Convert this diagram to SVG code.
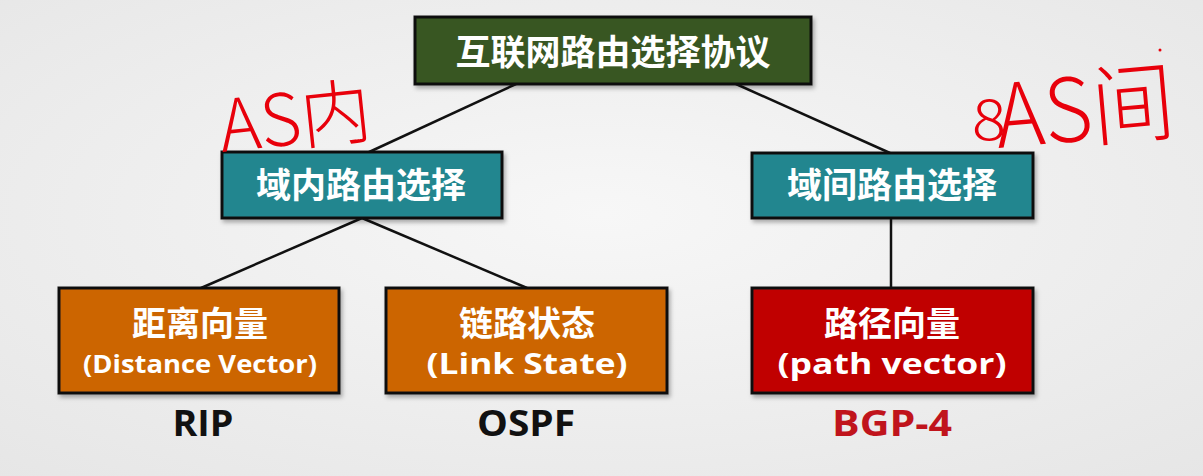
<svg xmlns="http://www.w3.org/2000/svg" width="1203" height="476" viewBox="0 0 1203 476">
<defs>
<radialGradient id="bg" cx="0.5" cy="0.45" r="0.75">
<stop offset="0" stop-color="#f7f7f7"/>
<stop offset="1" stop-color="#e6e6e6"/>
</radialGradient>
<filter id="sh" x="-5%" y="-10%" width="110%" height="125%">
<feDropShadow dx="2" dy="3" stdDeviation="2" flood-color="#000" flood-opacity="0.3"/>
</filter>
<style>
.box{stroke:#111;stroke-width:3;filter:url(#sh)}
.cn{font-family:"Noto Sans CJK SC","Noto Sans",sans-serif;font-weight:700;fill:#fff;text-anchor:middle}
.en{font-family:"Open Sans","Noto Sans",sans-serif;font-weight:700;fill:#fff;text-anchor:middle}
.lbl{font-family:"Open Sans","Noto Sans",sans-serif;font-weight:700;font-size:36px;text-anchor:middle}
.hw{font-family:"Noto Sans CJK SC","DejaVu Sans",sans-serif;font-weight:200;fill:#e8000b}
.ln{stroke:#111;stroke-width:2.5;fill:none}
</style>
</defs>
<rect width="1203" height="476" fill="url(#bg)"/>
<g id="connectors">
<line class="ln" x1="516" y1="84" x2="367" y2="153"/>
<line class="ln" x1="736" y1="84" x2="890" y2="153"/>
<line class="ln" x1="362" y1="218" x2="201" y2="288"/>
<line class="ln" x1="362" y1="218" x2="527" y2="288"/>
<line class="ln" x1="891" y1="218" x2="891" y2="288"/>
</g>
<g id="root">
<rect class="box" x="415" y="17" width="396" height="67" fill="#375623"/>
<text class="cn" x="613" y="65" font-size="35">互联网路由选择协议</text>
</g>
<g id="intra">
<rect class="box" x="222" y="152" width="280" height="66" fill="#24868f"/>
<text class="cn" x="361" y="198" font-size="35">域内路由选择</text>
</g>
<g id="inter">
<rect class="box" x="752" y="153" width="281" height="65" fill="#24868f"/>
<text class="cn" x="892" y="198" font-size="35">域间路由选择</text>
</g>
<g id="dv">
<rect class="box" x="59" y="288" width="280" height="105" fill="#cc6503"/>
<text class="cn" x="200" y="336" font-size="34">距离向量</text>
<text class="en" x="200" y="373" font-size="25" textLength="234" lengthAdjust="spacingAndGlyphs">(Distance Vector)</text>
<text class="lbl" x="203" y="436" fill="#111" textLength="61" lengthAdjust="spacingAndGlyphs">RIP</text>
</g>
<g id="ls">
<rect class="box" x="386" y="288" width="281" height="105" fill="#cc6503"/>
<text class="cn" x="527" y="336" font-size="34">链路状态</text>
<text class="en" x="527" y="374" font-size="29" textLength="201" lengthAdjust="spacingAndGlyphs">(Link State)</text>
<text class="lbl" x="526" y="436" fill="#111" textLength="98" lengthAdjust="spacingAndGlyphs">OSPF</text>
</g>
<g id="pv">
<rect class="box" x="752" y="288" width="281" height="105" fill="#c00000"/>
<text class="cn" x="892" y="336" font-size="34">路径向量</text>
<text class="en" x="892" y="374" font-size="29" textLength="229" lengthAdjust="spacingAndGlyphs">(path vector)</text>
<text class="lbl" x="892" y="436" fill="#c0141c" textLength="120" lengthAdjust="spacingAndGlyphs">BGP-4</text>
</g>
<g id="annotations">
<text class="hw" x="222" y="152" font-size="72" transform="rotate(-6 222 152)" textLength="152" lengthAdjust="spacingAndGlyphs">AS内</text>
<text class="hw" x="972" y="140" font-size="56" textLength="34" lengthAdjust="spacingAndGlyphs">8</text>
<text class="hw" x="998" y="148" font-size="88" transform="rotate(-5 998 148)" textLength="180" lengthAdjust="spacingAndGlyphs">AS间</text>
<circle cx="1160" cy="50" r="1.5" fill="#e8000b"/>
</g>
</svg>
